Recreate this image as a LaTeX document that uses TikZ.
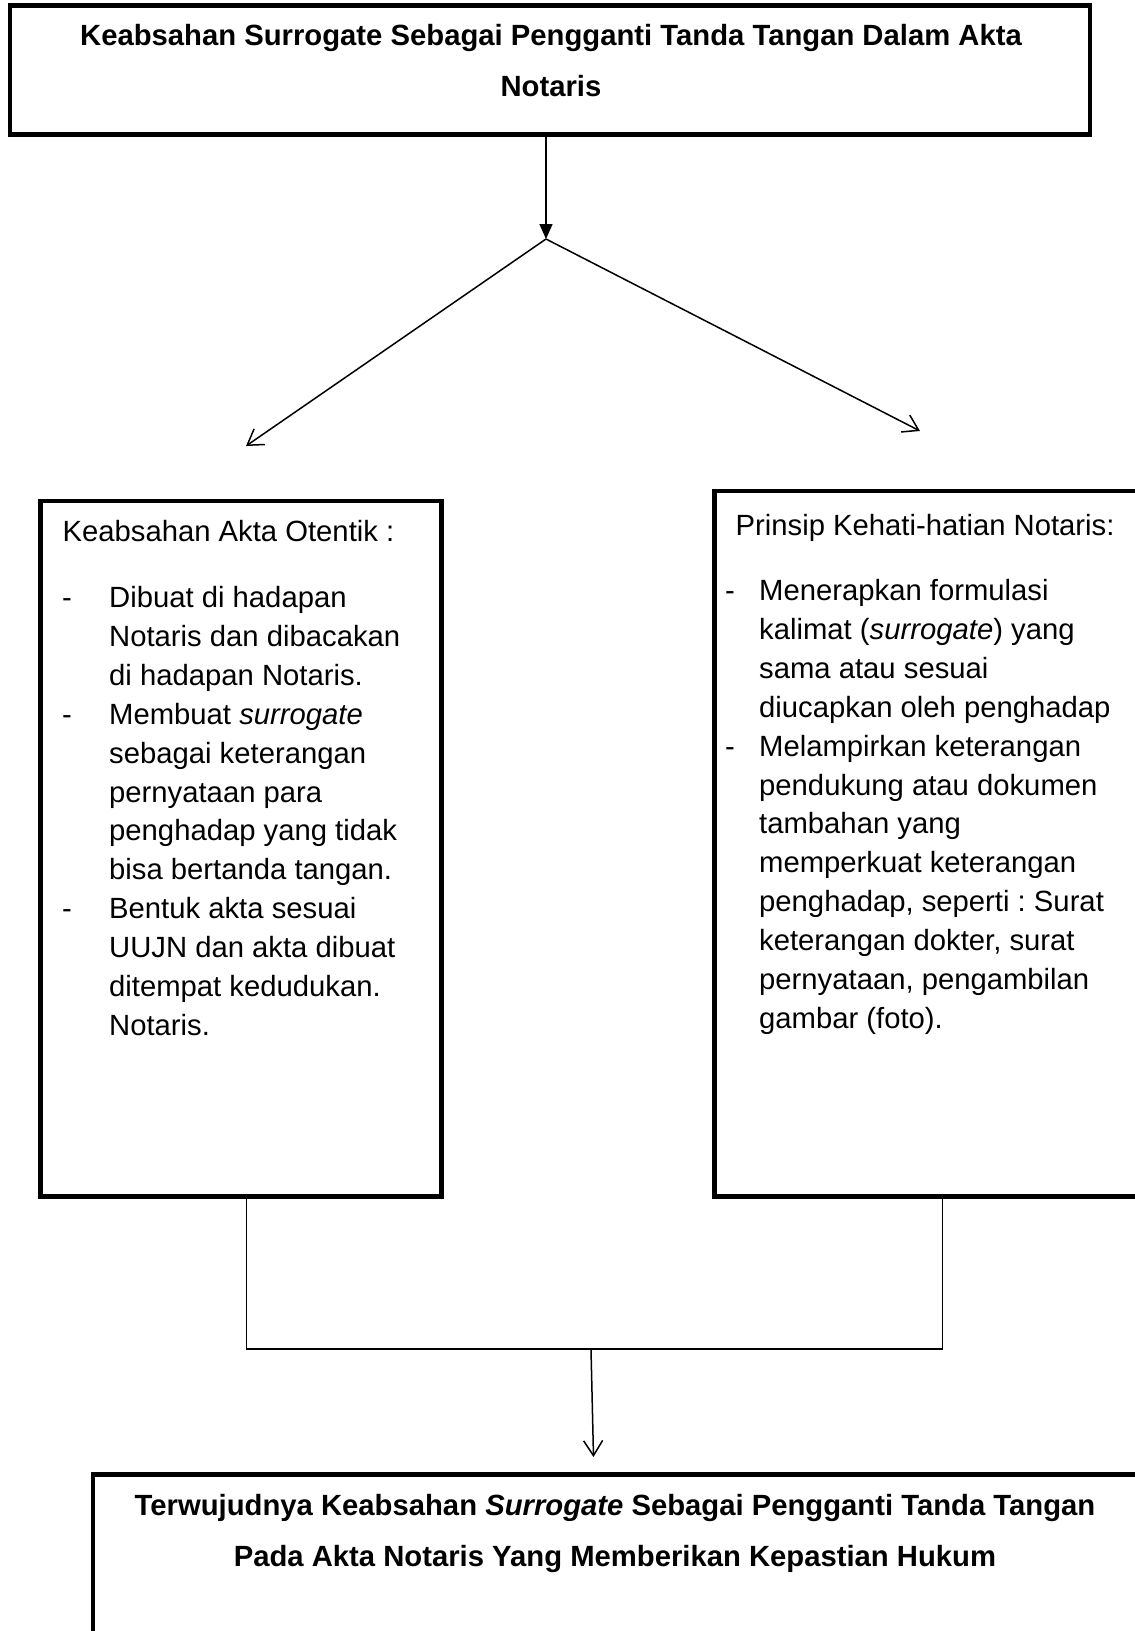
\documentclass[tikz,border=0pt]{standalone}
\usepackage{fontspec}
\setmainfont{Liberation Sans}
\usetikzlibrary{arrows.meta}
\frenchspacing
\newcommand{\lns}[2][l]{\begin{tabular}[t]{@{}#1@{}}#2\end{tabular}}
\begin{document}
\begin{tikzpicture}[x=1pt,y=-1pt,
  box/.style={draw, line width=4.5pt, inner sep=0pt, rectangle},
  txt/.style={inner sep=0pt, font=\fontsize{29.25}{38.9}\selectfont},
  ttl/.style={inner sep=0pt, font=\bfseries\fontsize{29.25}{51}\selectfont},
  conn/.style={line width=1.5pt},
  openarr/.style={conn, -{Straight Barb[length=15pt,width=19pt]}},
  fillarr/.style={conn, -{Triangle[length=15pt,width=13pt]}}]
\useasboundingbox (0,0) rectangle (1135,1631);
\clip (0,0) rectangle (1135,1631);
\fill[white] (0,0) rectangle (1135,1631);

% boxes
\node[box, minimum width=1080pt, minimum height=129pt] (top) at (550,70) {};
\node[box, minimum width=401pt, minimum height=695.5pt] (lbox) at (241,848.75) {};
\node[box, minimum width=465.5pt, minimum height=705.5pt] (rbox) at (947.25,843.75) {};
\node[box, minimum width=1087pt, minimum height=225.5pt] (bbox) at (636.5,1587.25) {};

% title
\node[ttl, anchor=base] (t1) at (551,45) {\lns[c]{Keabsahan Surrogate Sebagai Pengganti Tanda Tangan Dalam Akta\\Notaris}};

% left box text
\node[txt, anchor=base west] (lh) at (62.4,541.5) {Keabsahan Akta Otentik :};
\node[txt, anchor=base west] (ld1) at (62,607.5) {-};
\node[txt, anchor=base west] (li1) at (109,607.5) {\lns{Dibuat di hadapan\\Notaris dan dibacakan\\di hadapan Notaris.}};
\node[txt, anchor=base west] (ld2) at (62,724.2) {-};
\node[txt, anchor=base west] (li2) at (109,724.2) {\lns{Membuat \textit{surrogate}\\sebagai keterangan\\pernyataan para\\penghadap yang tidak\\bisa bertanda tangan.}};
\node[txt, anchor=base west] (ld3) at (62,918.7) {-};
\node[txt, anchor=base west] (li3) at (109,918.7) {\lns{Bentuk akta sesuai\\UUJN dan akta dibuat\\ditempat kedudukan.\\Notaris.}};

% right box text
\node[txt, anchor=base west] (rh) at (735.5,535) {Prinsip Kehati-hatian Notaris:};
\node[txt, anchor=base west] (rd1) at (725,600.5) {-};
\node[txt, anchor=base west] (ri1) at (759,600.5) {\lns{Menerapkan formulasi\\kalimat (\textit{surrogate}) yang\\sama atau sesuai\\diucapkan oleh penghadap}};
\node[txt, anchor=base west] (rd2) at (725,756.1) {-};
\node[txt, anchor=base west] (ri2) at (759,756.1) {\lns{Melampirkan keterangan\\pendukung atau dokumen\\tambahan yang\\memperkuat keterangan\\penghadap, seperti : Surat\\keterangan dokter, surat\\pernyataan, pengambilan\\gambar (foto).}};

% bottom title
\node[ttl, anchor=base] (b1) at (615,1515) {\lns[c]{Terwujudnya Keabsahan \textit{Surrogate} Sebagai Pengganti Tanda Tangan\\Pada Akta Notaris Yang Memberikan Kepastian Hukum}};

% connectors
\coordinate (split) at (546,239);
\coordinate (lend) at (246,446);
\coordinate (rend) at (920,431);
\coordinate (xl) at (246.6,0);
\coordinate (xr) at (942.5,0);
\coordinate (join) at (591,1349);
\coordinate (bend) at (593.5,1457);

\draw[fillarr] (top.south -| split) -- (split);
\draw[openarr] (split) -- (lend);
\draw[openarr] (split) -- (rend);
\draw[conn] (lbox.south -| xl) |- (join) -| (rbox.south -| xr);
\draw[openarr] (join) -- (bend);
\end{tikzpicture}
\end{document}
